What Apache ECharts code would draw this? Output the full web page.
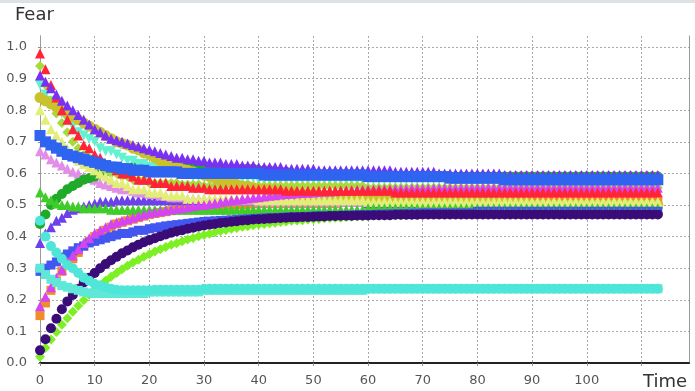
<!DOCTYPE html>
<html>
<head>
<meta charset="utf-8">
<script src="https://cdn.jsdelivr.net/npm/echarts@6/dist/echarts.min.js"></script>
<style>
html,body{margin:0;padding:0;background:#fff;}
#chart{width:695px;height:391px;}
</style>
</head>
<body>
<div id="chart"></div>
<script>
// ---- data ----
const time = [
0,1,2,3,4,5,6,7,8,9,
10,11,12,13,14,15,16,17,18,19,
20,21,22,23,24,25,26,27,28,29,
30,31,32,33,34,35,36,37,38,39,
40,41,42,43,44,45,46,47,48,49,
50,51,52,53,54,55,56,57,58,59,
60,61,62,63,64,65,66,67,68,69,
70,71,72,73,74,75,76,77,78,79,
80,81,82,83,84,85,86,87,88,89,
90,91,92,93,94,95,96,97,98,99,
100,101,102,103,104,105,106,107,108,109,
110,111,112,113];

const yTicks = [0,0.1,0.2,0.3,0.4,0.5,0.6,0.7,0.8,0.9,1.0];
const xTicks = [0,10,20,30,40,50,60,70,80,90,100];

const orange = [
0.15,0.19,0.23,0.26,0.29,0.31,0.33,0.35,0.37,0.385,
0.40,0.41,0.42,0.43,0.44,0.445,0.45,0.455,0.46,0.465,
0.47,0.473,0.476,0.479,0.482,0.485,0.487,0.489,0.491,0.493,
0.495,0.496,0.497,0.498,0.499,0.50,0.501,0.502,0.503,0.504,
0.505,0.505,0.505,0.505,0.505,0.505,0.505,0.505,0.505,0.505,
0.505,0.505,0.505,0.505,0.505,0.51,0.51,0.51,0.51,0.51,
0.51,0.51,0.51,0.51,0.51,0.51,0.51,0.51,0.51,0.51,
0.51,0.51,0.51,0.51,0.51,0.51,0.51,0.51,0.51,0.51,
0.51,0.51,0.51,0.51,0.51,0.51,0.51,0.51,0.51,0.51,
0.51,0.51,0.51,0.51,0.51,0.51,0.51,0.51,0.51,0.51,
0.51,0.51,0.51,0.51,0.51,0.51,0.51,0.51,0.51,0.51,
0.51,0.51,0.51,0.51];

const violet = [
0.38,0.41,0.43,0.45,0.46,0.475,0.485,0.49,0.495,0.50,
0.505,0.51,0.51,0.51,0.515,0.515,0.515,0.515,0.515,0.515,
0.515,0.515,0.515,0.515,0.515,0.515,0.515,0.515,0.515,0.515,
0.515,0.515,0.515,0.515,0.515,0.515,0.515,0.515,0.515,0.515,
0.51,0.51,0.51,0.51,0.51,0.51,0.51,0.51,0.51,0.51,
0.51,0.51,0.51,0.51,0.51,0.51,0.51,0.51,0.51,0.51,
0.505,0.505,0.505,0.505,0.505,0.505,0.505,0.505,0.505,0.505,
0.505,0.505,0.505,0.505,0.505,0.505,0.505,0.505,0.505,0.505,
0.505,0.505,0.505,0.505,0.505,0.505,0.505,0.505,0.505,0.505,
0.505,0.505,0.505,0.505,0.505,0.505,0.505,0.505,0.505,0.505,
0.505,0.505,0.505,0.505,0.505,0.505,0.505,0.505,0.505,0.505,
0.505,0.505,0.505,0.505];

const plum = [
0.67,0.66,0.645,0.635,0.625,0.615,0.605,0.60,0.59,0.585,
0.58,0.57,0.565,0.56,0.555,0.55,0.55,0.545,0.54,0.54,
0.535,0.535,0.53,0.53,0.525,0.525,0.525,0.52,0.52,0.52,
0.52,0.515,0.515,0.515,0.515,0.515,0.515,0.515,0.515,0.515,
0.51,0.51,0.51,0.51,0.51,0.51,0.51,0.51,0.51,0.51,
0.51,0.51,0.51,0.51,0.51,0.51,0.51,0.51,0.51,0.51,
0.51,0.51,0.51,0.51,0.51,0.51,0.51,0.51,0.51,0.51,
0.505,0.505,0.505,0.505,0.505,0.505,0.505,0.505,0.505,0.505,
0.505,0.505,0.505,0.505,0.505,0.505,0.505,0.505,0.505,0.505,
0.505,0.505,0.505,0.505,0.505,0.505,0.505,0.505,0.505,0.505,
0.505,0.505,0.505,0.505,0.505,0.505,0.505,0.505,0.505,0.505,
0.505,0.505,0.505,0.505];

const forestGreen = [
0.44,0.47,0.50,0.52,0.535,0.55,0.56,0.57,0.58,0.585,
0.59,0.60,0.605,0.61,0.61,0.615,0.615,0.62,0.62,0.62,
0.62,0.62,0.62,0.62,0.62,0.62,0.62,0.62,0.62,0.62,
0.62,0.615,0.615,0.615,0.615,0.615,0.615,0.615,0.615,0.615,
0.61,0.61,0.61,0.605,0.605,0.605,0.60,0.60,0.60,0.60,
0.595,0.595,0.595,0.595,0.595,0.595,0.595,0.595,0.595,0.595,
0.59,0.59,0.59,0.59,0.59,0.59,0.59,0.59,0.59,0.59,
0.59,0.59,0.59,0.59,0.59,0.59,0.59,0.59,0.59,0.59,
0.59,0.59,0.59,0.59,0.59,0.59,0.59,0.59,0.59,0.59,
0.59,0.59,0.59,0.59,0.59,0.59,0.59,0.59,0.59,0.59,
0.59,0.59,0.59,0.59,0.59,0.59,0.59,0.59,0.59,0.59,
0.59,0.59,0.59,0.59];

const aquamarine = [
0.88,0.85,0.83,0.81,0.79,0.77,0.75,0.73,0.72,0.71,
0.70,0.68,0.67,0.67,0.66,0.65,0.64,0.64,0.63,0.63,
0.62,0.62,0.61,0.61,0.61,0.60,0.60,0.60,0.59,0.59,
0.59,0.59,0.59,0.59,0.585,0.585,0.585,0.585,0.585,0.585,
0.58,0.58,0.58,0.58,0.58,0.58,0.58,0.58,0.58,0.58,
0.58,0.58,0.58,0.58,0.58,0.58,0.58,0.58,0.58,0.58,
0.58,0.58,0.58,0.58,0.58,0.58,0.58,0.58,0.58,0.58,
0.58,0.58,0.58,0.58,0.58,0.58,0.58,0.58,0.58,0.58,
0.58,0.58,0.58,0.58,0.58,0.58,0.58,0.58,0.58,0.58,
0.58,0.58,0.58,0.58,0.58,0.58,0.58,0.58,0.58,0.58,
0.58,0.58,0.58,0.58,0.58,0.58,0.58,0.58,0.58,0.58,
0.58,0.58,0.58,0.58];

const yellowGreen = [
0.94,0.88,0.83,0.79,0.76,0.73,0.70,0.68,0.66,0.65,
0.63,0.62,0.61,0.60,0.60,0.59,0.59,0.58,0.58,0.58,
0.57,0.57,0.57,0.57,0.57,0.57,0.565,0.565,0.565,0.565,
0.56,0.56,0.56,0.56,0.56,0.56,0.56,0.56,0.56,0.56,
0.56,0.56,0.56,0.56,0.56,0.56,0.56,0.56,0.56,0.56,
0.56,0.56,0.56,0.56,0.56,0.56,0.56,0.56,0.56,0.56,
0.555,0.555,0.555,0.555,0.555,0.555,0.555,0.555,0.555,0.555,
0.555,0.555,0.555,0.555,0.555,0.555,0.555,0.555,0.555,0.555,
0.555,0.555,0.555,0.555,0.555,0.555,0.555,0.555,0.555,0.555,
0.555,0.555,0.555,0.555,0.555,0.555,0.555,0.555,0.555,0.555,
0.555,0.555,0.555,0.555,0.555,0.555,0.555,0.555,0.555,0.555,
0.555,0.555,0.555,0.555];

const olive = [
0.84,0.83,0.82,0.81,0.80,0.79,0.78,0.77,0.76,0.75,
0.74,0.73,0.72,0.71,0.70,0.695,0.69,0.68,0.675,0.665,
0.66,0.65,0.64,0.635,0.63,0.62,0.615,0.61,0.605,0.60,
0.595,0.59,0.585,0.58,0.575,0.57,0.565,0.56,0.56,0.555,
0.55,0.55,0.545,0.545,0.54,0.54,0.54,0.535,0.535,0.535,
0.535,0.53,0.53,0.53,0.53,0.525,0.525,0.525,0.525,0.525,
0.52,0.52,0.52,0.52,0.52,0.52,0.52,0.52,0.52,0.52,
0.515,0.515,0.515,0.515,0.515,0.51,0.51,0.51,0.51,0.51,
0.51,0.51,0.51,0.51,0.51,0.505,0.505,0.505,0.505,0.505,
0.50,0.50,0.50,0.50,0.50,0.50,0.50,0.50,0.50,0.50,
0.50,0.50,0.50,0.50,0.50,0.50,0.50,0.50,0.50,0.50,
0.50,0.50,0.50,0.50];

const lightYellow = [
0.80,0.77,0.74,0.72,0.70,0.68,0.66,0.64,0.63,0.62,
0.61,0.60,0.59,0.58,0.57,0.57,0.56,0.55,0.55,0.55,
0.54,0.54,0.54,0.53,0.53,0.53,0.53,0.52,0.52,0.52,
0.52,0.52,0.52,0.52,0.52,0.52,0.52,0.52,0.52,0.52,
0.515,0.515,0.515,0.515,0.515,0.515,0.515,0.515,0.515,0.515,
0.515,0.515,0.515,0.515,0.515,0.515,0.515,0.515,0.515,0.515,
0.51,0.51,0.51,0.51,0.51,0.51,0.51,0.51,0.51,0.51,
0.51,0.51,0.51,0.51,0.51,0.51,0.51,0.51,0.51,0.51,
0.51,0.51,0.51,0.51,0.51,0.51,0.51,0.51,0.51,0.51,
0.51,0.51,0.51,0.51,0.51,0.51,0.51,0.51,0.51,0.51,
0.51,0.51,0.51,0.51,0.51,0.51,0.51,0.51,0.51,0.51,
0.51,0.51,0.51,0.51];

const limeGreen = [
0.54,0.525,0.515,0.505,0.50,0.50,0.495,0.495,0.49,0.49,
0.49,0.49,0.49,0.485,0.485,0.485,0.485,0.485,0.485,0.485,
0.485,0.485,0.485,0.485,0.485,0.485,0.485,0.485,0.485,0.485,
0.485,0.485,0.485,0.485,0.485,0.485,0.485,0.485,0.485,0.485,
0.485,0.485,0.485,0.485,0.485,0.485,0.485,0.485,0.485,0.485,
0.485,0.485,0.485,0.485,0.485,0.485,0.485,0.485,0.485,0.485,
0.49,0.49,0.49,0.49,0.49,0.49,0.49,0.49,0.49,0.49,
0.49,0.49,0.49,0.49,0.49,0.49,0.49,0.49,0.49,0.49,
0.49,0.49,0.49,0.49,0.49,0.49,0.49,0.49,0.49,0.49,
0.49,0.49,0.49,0.49,0.49,0.49,0.49,0.49,0.49,0.49,
0.49,0.49,0.49,0.49,0.49,0.49,0.49,0.49,0.49,0.49,
0.49,0.49,0.49,0.49];

const blue = [
0.29,0.30,0.31,0.32,0.335,0.345,0.355,0.365,0.37,0.38,
0.385,0.39,0.395,0.40,0.405,0.41,0.41,0.415,0.42,0.42,
0.425,0.428,0.431,0.434,0.436,0.438,0.44,0.442,0.444,0.446,
0.448,0.449,0.45,0.451,0.452,0.453,0.454,0.455,0.456,0.457,
0.458,0.459,0.46,0.46,0.461,0.462,0.462,0.463,0.463,0.464,
0.465,0.465,0.466,0.466,0.467,0.467,0.468,0.468,0.469,0.469,
0.47,0.47,0.471,0.471,0.472,0.472,0.473,0.473,0.474,0.474,
0.475,0.475,0.475,0.475,0.475,0.475,0.475,0.475,0.475,0.475,
0.48,0.48,0.48,0.48,0.48,0.48,0.48,0.48,0.48,0.48,
0.48,0.48,0.48,0.48,0.48,0.48,0.48,0.48,0.48,0.48,
0.48,0.48,0.48,0.48,0.48,0.48,0.48,0.48,0.48,0.48,
0.48,0.48,0.48,0.48];

const magenta = [
0.18,0.21,0.24,0.27,0.295,0.32,0.34,0.36,0.38,0.395,
0.41,0.42,0.43,0.44,0.445,0.45,0.455,0.46,0.465,0.47,
0.475,0.477,0.48,0.483,0.486,0.488,0.49,0.493,0.496,0.499,
0.50,0.503,0.506,0.509,0.512,0.515,0.517,0.519,0.521,0.523,
0.525,0.527,0.529,0.531,0.533,0.535,0.536,0.537,0.538,0.539,
0.54,0.541,0.542,0.543,0.544,0.545,0.546,0.547,0.548,0.548,
0.549,0.549,0.55,0.55,0.55,0.551,0.551,0.551,0.552,0.552,
0.552,0.552,0.553,0.553,0.553,0.553,0.553,0.554,0.554,0.554,
0.555,0.555,0.555,0.555,0.555,0.555,0.555,0.555,0.555,0.555,
0.555,0.555,0.555,0.555,0.555,0.555,0.555,0.555,0.555,0.555,
0.555,0.555,0.555,0.555,0.555,0.555,0.555,0.555,0.555,0.555,
0.555,0.555,0.555,0.555];

const red = [
0.98,0.93,0.88,0.84,0.80,0.77,0.74,0.72,0.69,0.68,
0.66,0.65,0.63,0.62,0.61,0.60,0.60,0.59,0.58,0.58,
0.58,0.57,0.57,0.57,0.56,0.56,0.56,0.56,0.555,0.555,
0.555,0.55,0.55,0.55,0.55,0.55,0.55,0.55,0.55,0.55,
0.55,0.55,0.55,0.55,0.55,0.545,0.545,0.545,0.545,0.545,
0.545,0.545,0.545,0.545,0.545,0.545,0.545,0.545,0.545,0.545,
0.545,0.545,0.545,0.545,0.545,0.54,0.54,0.54,0.54,0.54,
0.54,0.54,0.54,0.54,0.54,0.54,0.54,0.54,0.54,0.54,
0.54,0.54,0.54,0.54,0.54,0.54,0.54,0.54,0.54,0.54,
0.54,0.54,0.54,0.54,0.54,0.54,0.54,0.54,0.54,0.54,
0.54,0.54,0.54,0.54,0.54,0.54,0.54,0.54,0.54,0.54,
0.54,0.54,0.54,0.54];

const blueViolet = [
0.91,0.89,0.87,0.85,0.83,0.815,0.80,0.785,0.77,0.755,
0.74,0.73,0.72,0.71,0.705,0.70,0.695,0.69,0.685,0.68,
0.675,0.67,0.665,0.66,0.655,0.65,0.65,0.645,0.645,0.64,
0.64,0.635,0.635,0.635,0.63,0.63,0.63,0.625,0.625,0.625,
0.62,0.62,0.62,0.62,0.62,0.615,0.615,0.615,0.615,0.615,
0.615,0.61,0.61,0.61,0.61,0.61,0.61,0.61,0.61,0.61,
0.61,0.61,0.61,0.61,0.61,0.605,0.605,0.605,0.605,0.605,
0.605,0.605,0.605,0.60,0.60,0.60,0.60,0.60,0.60,0.60,
0.60,0.60,0.60,0.60,0.60,0.595,0.595,0.595,0.595,0.595,
0.595,0.595,0.595,0.595,0.595,0.595,0.595,0.595,0.595,0.595,
0.595,0.595,0.595,0.595,0.595,0.595,0.595,0.595,0.595,0.595,
0.595,0.595,0.595,0.595];

const royalBlue = [
0.72,0.70,0.69,0.68,0.67,0.66,0.655,0.65,0.645,0.64,
0.635,0.63,0.625,0.62,0.62,0.615,0.615,0.61,0.61,0.61,
0.605,0.605,0.605,0.605,0.605,0.605,0.60,0.60,0.60,0.60,
0.60,0.60,0.60,0.60,0.60,0.60,0.60,0.60,0.60,0.60,
0.60,0.595,0.595,0.595,0.595,0.595,0.595,0.595,0.595,0.595,
0.595,0.595,0.595,0.595,0.595,0.595,0.595,0.595,0.595,0.595,
0.59,0.59,0.59,0.59,0.59,0.59,0.59,0.59,0.59,0.59,
0.59,0.59,0.59,0.59,0.59,0.585,0.585,0.585,0.585,0.585,
0.585,0.585,0.585,0.585,0.585,0.58,0.58,0.58,0.58,0.58,
0.58,0.58,0.58,0.58,0.58,0.58,0.58,0.58,0.58,0.58,
0.58,0.58,0.58,0.58,0.58,0.58,0.58,0.58,0.58,0.58,
0.58,0.58,0.58,0.58];

const lawnGreen = [
0.02,0.048,0.074,0.098,0.121,0.142,0.162,0.181,0.199,0.216,
0.232,0.246,0.26,0.273,0.285,0.297,0.308,0.318,0.327,0.336,
0.344,0.353,0.36,0.367,0.374,0.379,0.385,0.391,0.396,0.401,
0.405,0.409,0.414,0.418,0.421,0.425,0.427,0.431,0.433,0.436,
0.438,0.44,0.442,0.444,0.446,0.448,0.45,0.451,0.452,0.454,
0.455,0.456,0.458,0.459,0.46,0.46,0.462,0.463,0.464,0.464,
0.465,0.466,0.466,0.467,0.467,0.467,0.468,0.468,0.469,0.469,
0.47,0.47,0.47,0.471,0.471,0.471,0.472,0.472,0.472,0.472,
0.473,0.473,0.473,0.473,0.473,0.473,0.473,0.473,0.473,0.473,
0.473,0.473,0.473,0.473,0.473,0.473,0.473,0.473,0.473,0.473,
0.473,0.473,0.473,0.473,0.473,0.473,0.473,0.473,0.473,0.473,
0.473,0.473,0.473,0.473];

const indigo = [
0.04,0.075,0.11,0.14,0.17,0.195,0.215,0.235,0.255,0.27,
0.285,0.30,0.313,0.325,0.336,0.347,0.356,0.366,0.374,0.382,
0.389,0.395,0.401,0.407,0.412,0.417,0.42,0.425,0.428,0.432,
0.435,0.438,0.44,0.443,0.445,0.447,0.449,0.451,0.452,0.454,
0.455,0.456,0.457,0.458,0.459,0.46,0.461,0.461,0.462,0.462,
0.463,0.464,0.464,0.465,0.465,0.466,0.466,0.466,0.467,0.467,
0.467,0.468,0.468,0.468,0.468,0.469,0.469,0.469,0.469,0.469,
0.47,0.47,0.47,0.47,0.47,0.47,0.47,0.47,0.47,0.47,
0.47,0.47,0.47,0.47,0.47,0.47,0.47,0.47,0.47,0.47,
0.47,0.47,0.47,0.47,0.47,0.47,0.47,0.47,0.47,0.47,
0.47,0.47,0.47,0.47,0.47,0.47,0.47,0.47,0.47,0.47,
0.47,0.47,0.47,0.47];

const turquoise2 = [
0.30,0.28,0.265,0.255,0.245,0.24,0.235,0.23,0.225,0.222,
0.22,0.22,0.22,0.22,0.22,0.22,0.22,0.22,0.22,0.22,
0.225,0.225,0.225,0.225,0.225,0.225,0.225,0.225,0.225,0.225,
0.23,0.23,0.23,0.23,0.23,0.23,0.23,0.23,0.23,0.23,
0.23,0.23,0.23,0.23,0.23,0.23,0.23,0.23,0.23,0.23,
0.23,0.23,0.23,0.23,0.23,0.23,0.23,0.23,0.23,0.23,
0.235,0.235,0.235,0.235,0.235,0.235,0.235,0.235,0.235,0.235,
0.235,0.235,0.235,0.235,0.235,0.235,0.235,0.235,0.235,0.235,
0.235,0.235,0.235,0.235,0.235,0.235,0.235,0.235,0.235,0.235,
0.235,0.235,0.235,0.235,0.235,0.235,0.235,0.235,0.235,0.235,
0.235,0.235,0.235,0.235,0.235,0.235,0.235,0.235,0.235,0.235,
0.235,0.235,0.235,0.235];

const turquoise = [
0.45,0.40,0.37,0.35,0.33,0.31,0.30,0.285,0.27,0.26,
0.25,0.245,0.24,0.235,0.232,0.23,0.23,0.23,0.23,0.23,
0.23,0.232,0.232,0.232,0.232,0.232,0.232,0.232,0.232,0.232,
0.235,0.235,0.235,0.235,0.235,0.235,0.235,0.235,0.235,0.235,
0.235,0.235,0.235,0.235,0.235,0.235,0.235,0.235,0.235,0.235,
0.235,0.235,0.235,0.235,0.235,0.235,0.235,0.235,0.235,0.235,
0.235,0.235,0.235,0.235,0.235,0.235,0.235,0.235,0.235,0.235,
0.235,0.235,0.235,0.235,0.235,0.235,0.235,0.235,0.235,0.235,
0.235,0.235,0.235,0.235,0.235,0.235,0.235,0.235,0.235,0.235,
0.235,0.235,0.235,0.235,0.235,0.235,0.235,0.235,0.235,0.235,
0.235,0.235,0.235,0.235,0.235,0.235,0.235,0.235,0.235,0.235,
0.235,0.235,0.235,0.235];

// ---- styling (drawing order: first listed is drawn first) ----
const seriesDefs = [
  {name:'orange',      values:orange,      color:'#f08c2a', symbol:'rect',     size:9},
  {name:'violet',      values:violet,      color:'#6c40ea', symbol:'triangle', size:10},
  {name:'plum',        values:plum,        color:'#e08ee6', symbol:'triangle', size:10},
  {name:'forestGreen', values:forestGreen, color:'#1faa2a', symbol:'circle',   size:10},
  {name:'aquamarine',  values:aquamarine,  color:'#62f2cf', symbol:'triangle', size:10, rotate:180},
  {name:'yellowGreen', values:yellowGreen, color:'#a8da3c', symbol:'diamond',  size:10},
  {name:'olive',       values:olive,       color:'#c9c22c', symbol:'circle',   size:11},
  {name:'lightYellow', values:lightYellow, color:'#e3ee78', symbol:'triangle', size:10},
  {name:'limeGreen',   values:limeGreen,   color:'#40cc2a', symbol:'triangle', size:10},
  {name:'blue',        values:blue,        color:'#4256f0', symbol:'rect',     size:9},
  {name:'magenta',     values:magenta,     color:'#d444f2', symbol:'triangle', size:10},
  {name:'red',         values:red,         color:'#ff2438', symbol:'triangle', size:10},
  {name:'blueViolet',  values:blueViolet,  color:'#7a30f2', symbol:'triangle', size:10},
  {name:'royalBlue',   values:royalBlue,   color:'#2f64f0', symbol:'rect',     size:11},
  {name:'lawnGreen',   values:lawnGreen,   color:'#7cf022', symbol:'diamond',  size:10},
  {name:'indigo',      values:indigo,      color:'#3a0c78', symbol:'circle',   size:10},
  {name:'turquoise2',  values:turquoise2,  color:'#5fe8d8', symbol:'rect',     size:9},
  {name:'turquoise',   values:turquoise,   color:'#4ee6d8', symbol:'circle',   size:10}
];

const X_MIN = 0, X_MAX = 118.7, Y_MIN = 0, Y_MAX = 1.035;
const FONT = '"DejaVu Sans", Verdana, sans-serif';

const chart = echarts.init(document.getElementById('chart'), null, {renderer:'canvas'});

const series = seriesDefs.map(d => ({
  name: d.name,
  type: 'scatter',
  xAxisIndex: 0,
  yAxisIndex: 0,
  symbol: d.symbol,
  symbolSize: d.size,
  symbolRotate: d.rotate || 0,
  itemStyle: {color: d.color, opacity: 1},
  emphasis: {disabled: true},
  data: time.slice(0, d.values.length).map((t, i) => [t, d.values[i]])
}));

const isTick = (arr, v) => arr.some(a => Math.abs(a - v) < 1e-6);

const option = {
  animation: false,
  backgroundColor: '#ffffff',
  grid: {left: 40, right: 6, top: 36, bottom: 28, show: false, containLabel: false},
  xAxis: [
    {
      type: 'value', position: 'bottom', offset: 5,
      min: X_MIN, max: X_MAX, interval: 10,
      axisLine: {show: true, lineStyle: {color: '#8c8c8c', width: 1}},
      axisTick: {show: true, length: 3, lineStyle: {color: '#8c8c8c'}},
      axisLabel: {
        show: true, margin: 6, color: '#555', fontSize: 13, fontFamily: FONT,
        showMaxLabel: false,
        formatter: v => isTick(xTicks, v) ? String(Math.round(v)) : ''
      },
      splitLine: {show: true, showMinLine: false, showMaxLine: false,
        lineStyle: {color: '#a8a8a8', type: [2, 2], width: 1}}
    },
    {
      type: 'value', position: 'bottom', offset: 0,
      min: X_MIN, max: X_MAX,
      axisLine: {show: true, lineStyle: {color: '#222', width: 2}},
      axisTick: {show: false}, axisLabel: {show: false}, splitLine: {show: false}
    }
  ],
  yAxis: [
    {
      type: 'value', position: 'left', offset: 7,
      min: Y_MIN, max: Y_MAX, interval: 0.1,
      axisLine: {show: true, lineStyle: {color: '#8c8c8c', width: 1}},
      axisTick: {show: true, length: 2, lineStyle: {color: '#8c8c8c'}},
      axisLabel: {
        show: true, margin: 6, color: '#555', fontSize: 13, fontFamily: FONT,
        showMaxLabel: false,
        formatter: v => isTick(yTicks, v) ? v.toFixed(1) : ''
      },
      splitLine: {show: true, showMinLine: false, showMaxLine: false,
        lineStyle: {color: '#a8a8a8', type: [2, 2], width: 1}}
    },
    {
      type: 'value', position: 'left', offset: 0,
      min: Y_MIN, max: Y_MAX,
      axisLine: {show: true, lineStyle: {color: '#9a9a9a', width: 1}},
      axisTick: {show: false}, axisLabel: {show: false}, splitLine: {show: false}
    },
    {
      type: 'value', position: 'right', offset: 0,
      min: Y_MIN, max: Y_MAX,
      axisLine: {show: true, lineStyle: {color: '#9a9a9a', width: 1}},
      axisTick: {show: false}, axisLabel: {show: false}, splitLine: {show: false}
    }
  ],
  graphic: [
    {type: 'rect', left: 0, top: 0, shape: {width: 695, height: 3}, style: {fill: '#dde2e6'}, silent: true},
    {type: 'text', left: 15, top: 6, style: {text: 'Fear', font: '18px ' + FONT, fill: '#333'}},
    {type: 'text', right: 8, bottom: 0, style: {text: 'Time', font: '18px ' + FONT, fill: '#333'}}
  ],
  series: series
};

chart.setOption(option);
</script>
</body>
</html>
